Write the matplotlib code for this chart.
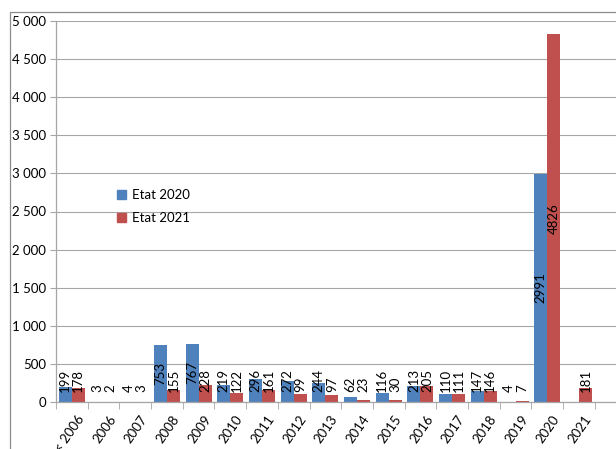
import matplotlib
matplotlib.use("Agg")
import matplotlib.pyplot as plt
import matplotlib.transforms as mtransforms
from matplotlib.patches import Patch, Rectangle
import numpy as np

categories = ['< 2006', '2006', '2007', '2008', '2009', '2010', '2011', '2012',
              '2013', '2014', '2015', '2016', '2017', '2018', '2019', '2020', '2021']
etat_2020 = [199, 3, 4, 753, 767, 219, 296, 272, 244, 62, 116, 213, 110, 147, 4, 2991, None]
etat_2021 = [178, 2, 3, 155, 228, 122, 161, 99, 97, 23, 30, 205, 111, 146, 7, 4826, 181]
series_names = ['Etat 2020', 'Etat 2021']
y_ticks = list(range(0, 5001, 500))

BLUE = '#4F81BD'
RED = '#C0504D'
GRID = '#a6a6a6'
FS = 9.5

plt.rcParams['font.family'] = ['Lato', 'DejaVu Sans']

W, H = 616, 449
fig = plt.figure(figsize=(W / 100, H / 100), dpi=100)
# plot area in pixels: left 56, right at image edge, top 21, bottom 402
ax = fig.add_axes([56 / W, (H - 402) / H, (W - 56) / W, 381 / H])

# outer chart frame (cropped on right/bottom)
fig.patches.append(Rectangle((10 / W, -0.1), 1.2, (H - 12) / H + 0.1,
                             transform=fig.transFigure, fill=False,
                             edgecolor='#8c8c8c', linewidth=0.9))

x = np.arange(len(categories))
bw = 0.41
v20 = np.array([np.nan if v is None else v for v in etat_2020], dtype=float)
v21 = np.array(etat_2021, dtype=float)
ax.bar(x - bw / 2, v20, bw, color=BLUE, label=series_names[0], zorder=2)
ax.bar(x + bw / 2, v21, bw, color=RED, label=series_names[1], zorder=2)

ax.set_ylim(0, 5000)
ax.set_xlim(-0.5, 17.17)

# data labels, rotated, centred in bar unless the bar is too short
ppu = 381 / 5000.0
digit_px = 0.58 * FS * 100 / 72
for xs, vals in ((x - bw / 2, v20), (x + bw / 2, v21)):
    for xi, v in zip(xs, vals):
        if np.isnan(v):
            continue
        s = str(int(v))
        half = len(s) * digit_px / 2
        yc = max(v / 2, (10 + half) / ppu)
        ax.text(xi, yc, s, rotation=90, ha='center', va='center',
                fontsize=FS, color='black', zorder=3)

ax.set_yticks(y_ticks)
ax.set_yticklabels([f"{t:,}".replace(",", " ") for t in y_ticks], fontsize=FS)
ax.yaxis.grid(True, color=GRID, linewidth=0.8)
ax.set_axisbelow(True)
ax.tick_params(axis='y', length=4, color=GRID, pad=3)

ax.set_xticks(x)
ax.set_xticklabels(categories, fontsize=FS, rotation=55, ha='right',
                   rotation_mode='anchor')
ax.set_xticks(np.arange(len(categories) + 1) - 0.5, minor=True)
ax.tick_params(axis='x', which='major', length=0, pad=8)
ax.tick_params(axis='x', which='minor', length=5, color=GRID)
shift = mtransforms.ScaledTranslation(5 / 100, 0, fig.dpi_scale_trans)
for lbl in ax.get_xticklabels():
    lbl.set_transform(lbl.get_transform() + shift)

for side in ('top', 'right'):
    ax.spines[side].set_visible(False)
for side in ('left', 'bottom'):
    ax.spines[side].set_color(GRID)
    ax.spines[side].set_linewidth(0.9)

handles = [Patch(color=BLUE), Patch(color=RED)]
ax.legend(handles, series_names, loc='upper left',
          bbox_to_anchor=(108 / W, (H - 180) / H), bbox_transform=fig.transFigure,
          frameon=False, fontsize=FS, handlelength=0.7, handleheight=0.7,
          handletextpad=0.4, labelspacing=0.85, borderpad=0.2)

fig.savefig('out.png', dpi=100)
